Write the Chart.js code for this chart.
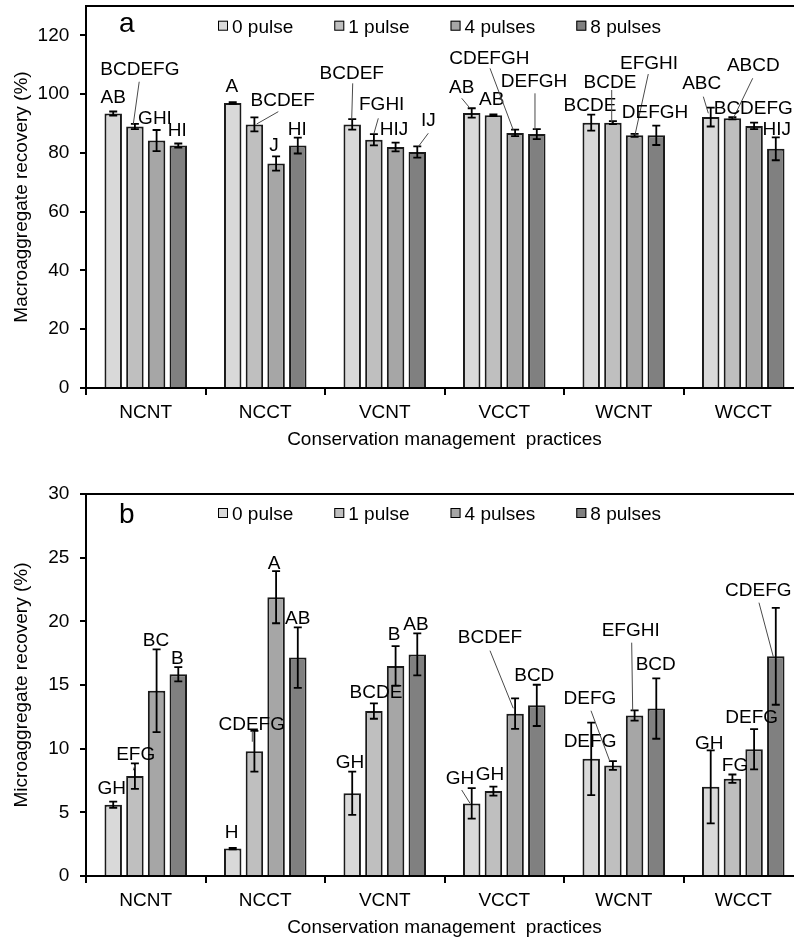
<!DOCTYPE html>
<html>
<head>
<meta charset="utf-8">
<title>Aggregate recovery under conservation management practices</title>
<script src="https://cdn.jsdelivr.net/npm/chart.js@4.4.1/dist/chart.umd.min.js"></script>
<style>
  html, body { margin: 0; padding: 0; background: #fff; width: 794px; height: 943px; overflow: hidden; }
  canvas { position: absolute; left: 0; }
  #macro { top: 0; }
  #micro { top: 470px; }
</style>
</head>
<body>
<canvas id="macro" width="803" height="452"></canvas>
<canvas id="micro" width="803" height="470"></canvas>
<script>
// ---- data -------------------------------------------------------------
const categories = ['NCNT', 'NCCT', 'VCNT', 'VCCT', 'WCNT', 'WCCT'];
const seriesNames = ['0 pulse', '1 pulse', '4 pulses', '8 pulses'];

// Macroaggregate recovery (%): means and error bars per pulse treatment
const macro0 = [93.4, 97.0, 89.7, 93.6, 90.3, 92.2];
const macro1 = [89.0, 89.7, 84.5, 92.8, 90.3, 91.8];
const macro4 = [84.2, 76.4, 82.0, 86.8, 86.0, 89.2];
const macro8 = [82.5, 82.5, 80.3, 86.4, 86.0, 81.4];
const macroErr0 = [0.7, 0.3, 1.8, 1.6, 2.7, 3.2];
const macroErr1 = [0.9, 2.4, 1.9, 0.3, 0.5, 0.4];
const macroErr4 = [3.6, 2.4, 1.5, 1.1, 0.5, 1.1];
const macroErr8 = [0.7, 2.7, 1.9, 1.7, 3.3, 3.9];
const macroLetters0 = ['AB', 'A', 'BCDEF', 'AB', 'BCDE', 'ABC'];
const macroLetters1 = ['BCDEFG', 'BCDEF', 'FGHI', 'AB', 'BCDE', 'ABCD'];
const macroLetters4 = ['GHI', 'J', 'HIJ', 'CDEFGH', 'EFGHI', 'BCDEFG'];
const macroLetters8 = ['HI', 'HI', 'IJ', 'DEFGH', 'DEFGH', 'HIJ'];

// Microaggregate recovery (%): means and error bars per pulse treatment
const micro0 = [5.6, 2.15, 6.5, 5.7, 9.2, 7.0];
const micro1 = [7.85, 9.8, 12.95, 6.67, 8.68, 7.64];
const micro4 = [14.55, 21.9, 16.5, 12.75, 12.6, 9.95];
const micro8 = [15.85, 17.15, 17.4, 13.4, 13.15, 17.25];
const microErr0 = [0.24, 0.05, 1.7, 1.2, 2.85, 2.87];
const microErr1 = [1.0, 1.6, 0.6, 0.35, 0.34, 0.33];
const microErr4 = [3.25, 2.05, 1.55, 1.2, 0.4, 1.58];
const microErr8 = [0.56, 2.37, 1.65, 1.62, 2.37, 3.8];
const microLetters0 = ['GH', 'H', 'GH', 'GH', 'DEFG', 'GH'];
const microLetters1 = ['EFG', 'CDEFG', 'BCDE', 'GH', 'DEFG', 'FG'];
const microLetters4 = ['BC', 'A', 'B', 'BCDEF', 'EFGHI', 'DEFG'];
const microLetters8 = ['B', 'AB', 'AB', 'BCD', 'BCD', 'CDEFG'];

// ---- label placement (pixels) ----------------------------------------
// [dx, dy] of the letter centre from the error-bar top; optional leader
// [sx, sy, ex, ey]: start relative to the letter centre, end relative to
// the error-bar top.
const macroPlace = [
  [[0, -15], [-1, -17], [-0.5, -47.4, [1, 11.6, -0.5, 0.2]], [-10, -22.3, [0, 12.3, -1.7, 0]], [-1.2, -10.7], [-9, -25, [1.6, 14, -2.4, 5.6]]],
  [[5, -55.5, [-0.7, 13.4, -1.6, 0.2]], [28.3, -18.4, [-4.4, 12.7, 2.3, 6.6]], [7.8, -31.1, [-3.4, 15.3, 0.1, -0.8]], [-1.7, -16.7], [-2.9, -39.5, [1.7, 8.3, -1.2, 1.5]], [20.9, -53.1, [-0.6, 14.3, 0.9, 1.2]]],
  [[-1.6, -13.3], [-2, -12.4], [-1.6, -14.3], [-25.8, -72.4, [0.7, 11, -1.8, 0.3]], [14.4, -72.1, [-0.7, 12.3, 0.4, 1.2]], [-0.8, -15.3]],
  [[-1, -14.2], [-0.5, -9.5], [11, -27.2, [0, 14, 1, 0.2]], [-2.8, -49.1, [1, 13.3, -1.8, 0.9]], [-1.3, -13.9], [0.9, -9]]
];
const microPlace = [
  [[-1.5, -14.9], [-1, -16.3], [-2.2, -9.9], [-11.7, -11.4, [1.7, 13.3, -1.7, 15.2]], [-1.2, 17.4], [-1.4, -8.6]],
  [[0.8, -10, [-0.7, 11.7, -1.6, 7]], [-2.7, -7.5, [0.6, 8.4, -2.1, 10.9]], [2.1, -11.8], [-3.4, -13.3], [-22.9, -63.8, [1, 13.4, -2.9, 0.6]], [2.6, -10.5]],
  [[-0.6, -10.4], [-2.1, -9.3], [-1.6, -13], [-25.1, -61.7, [0, 14, -1.8, 9.9]], [-3.9, -81.2, [1, 13.4, -1.9, 0.2]], [-2.4, -12.7]],
  [[-1, -10.3], [-0.1, -10.7], [-1.3, -10], [-2.5, -10.4], [-0.6, -15.1], [-17.5, -18.7, [0.7, 13.4, -2.5, 48.7]]]
];

// ---- styling -----------------------------------------------------------
const FONT_FAMILY = '"Liberation Sans", Arial, Helvetica, sans-serif';
const FONT_SIZE = 19;
const CAP_HALF = FONT_SIZE * 0.716 / 2;
const fills = ['#d9d9d9', '#bfbfbf', '#a6a6a6', '#808080'];
const edge = '#1a1a1a';

function font(size) { return { family: FONT_FAMILY, size: size, lineHeight: 1.2 }; }

// Error bars, significance letters, legend, panel letter and frame top
const annotate = {
  id: 'annotate',
  afterDatasetsDraw(chart) {
    const ctx = chart.ctx;
    const y = chart.scales.y;
    const info = chart.options.plugins.annotate;
    ctx.save();
    // error bars
    chart.data.datasets.forEach((ds, si) => {
      const meta = chart.getDatasetMeta(si);
      meta.data.forEach((bar, i) => {
        const v = ds.data[i], e = info.errors[si][i];
        const yt = y.getPixelForValue(v + e), yb = y.getPixelForValue(v - e);
        ctx.strokeStyle = '#000';
        ctx.lineWidth = 1.8;
        ctx.beginPath();
        ctx.moveTo(bar.x, yt); ctx.lineTo(bar.x, yb);
        ctx.moveTo(bar.x - 4, yt); ctx.lineTo(bar.x + 4, yt);
        ctx.moveTo(bar.x - 4, yb); ctx.lineTo(bar.x + 4, yb);
        ctx.stroke();
      });
    });
    // letters with leader lines
    ctx.font = FONT_SIZE + 'px ' + FONT_FAMILY;
    ctx.textAlign = 'center';
    ctx.textBaseline = 'alphabetic';
    chart.data.datasets.forEach((ds, si) => {
      const meta = chart.getDatasetMeta(si);
      meta.data.forEach((bar, i) => {
        const et = y.getPixelForValue(ds.data[i] + info.errors[si][i]);
        const p = info.place[si][i];
        const cx = bar.x + p[0], cy = et + p[1];
        if (p[2]) {
          const l = p[2];
          ctx.strokeStyle = '#4a4a4a';
          ctx.lineWidth = 1;
          ctx.beginPath();
          ctx.moveTo(cx + l[0], cy + l[1]);
          ctx.lineTo(bar.x + l[2], et + l[3]);
          ctx.stroke();
        }
        ctx.fillStyle = '#000';
        ctx.fillText(info.letters[si][i], cx, cy + CAP_HALF);
      });
    });
    ctx.restore();
  },
  afterDraw(chart) {
    const ctx = chart.ctx;
    const area = chart.chartArea;
    const info = chart.options.plugins.annotate;
    ctx.save();
    // frame top
    ctx.strokeStyle = '#000';
    ctx.lineWidth = 2;
    ctx.beginPath();
    ctx.moveTo(area.left - 1, area.top);
    ctx.lineTo(chart.width, area.top);
    ctx.stroke();
    // panel letter
    ctx.fillStyle = '#000';
    ctx.font = '28px ' + FONT_FAMILY;
    ctx.textAlign = 'left';
    ctx.textBaseline = 'alphabetic';
    ctx.fillText(info.panel, 119, area.top + info.panelBase);
    // legend
    ctx.font = FONT_SIZE + 'px ' + FONT_FAMILY;
    const ly = area.top + info.legendOffset;
    let lx = 218;
    chart.data.datasets.forEach((ds) => {
      ctx.fillStyle = ds.backgroundColor;
      ctx.fillRect(lx, ly - 5, 10, 10);
      ctx.strokeStyle = '#000';
      ctx.lineWidth = 1;
      ctx.strokeRect(lx + 0.5, ly - 4.5, 9, 9);
      ctx.fillStyle = '#000';
      ctx.fillText(ds.label, lx + 14, ly + CAP_HALF);
      lx += 14 + ctx.measureText(ds.label).width + 41;
    });
    ctx.restore();
  }
};

function makeChart(id, series, errors, letters, place, opts) {
  const datasets = series.map((d, i) => ({
    label: seriesNames[i],
    data: d,
    backgroundColor: fills[i],
    borderColor: edge,
    borderWidth: 2,
    barPercentage: 0.806,
    categoryPercentage: 0.726
  }));
  return new Chart(document.getElementById(id), {
    type: 'bar',
    data: { labels: categories, datasets: datasets },
    plugins: [annotate],
    options: {
      responsive: false,
      devicePixelRatio: 1,
      animation: false,
      layout: { padding: { top: opts.padTop, left: 0, right: 0, bottom: 0 } },
      plugins: {
        legend: { display: false },
        tooltip: { enabled: false },
        annotate: {
          errors: errors, letters: letters, place: place,
          panel: opts.panel, panelBase: opts.panelBase, legendOffset: opts.legendOffset
        }
      },
      scales: {
        x: {
          offset: true,
          z: 1,
          grid: { offset: true, drawOnChartArea: false, drawTicks: true, tickLength: 7, color: '#000', lineWidth: 2 },
          border: { display: true, color: '#000', width: 2 },
          ticks: { font: font(FONT_SIZE), color: '#000', padding: 6, maxRotation: 0, autoSkip: false },
          title: { display: true, text: 'Conservation management  practices', font: font(FONT_SIZE), color: '#000', padding: { top: 0, bottom: 1 } },
          afterFit: (s) => { s.height = 64; s.paddingLeft = 0; s.paddingRight = 0; }
        },
        y: {
          min: 0,
          max: opts.max,
          ticks: { stepSize: opts.step, font: font(FONT_SIZE), color: '#000', padding: 10.7 },
          afterBuildTicks: (s) => { s.ticks = s.ticks.filter(t => t.value <= opts.topTick); },
          grid: { drawOnChartArea: false, drawTicks: true, tickLength: 6, color: '#000', lineWidth: 2 },
          border: { display: true, color: '#000', width: 2 },
          title: { display: true, text: opts.title, font: font(FONT_SIZE), color: '#000', padding: { top: 10.3, bottom: 0 } },
          afterFit: (s) => { s.width = 86; s.paddingTop = 0; s.paddingBottom = 0; }
        }
      }
    }
  });
}

makeChart('macro',
  [macro0, macro1, macro4, macro8],
  [macroErr0, macroErr1, macroErr4, macroErr8],
  [macroLetters0, macroLetters1, macroLetters4, macroLetters8],
  macroPlace,
  { max: 130, step: 20, topTick: 120, padTop: 6, title: 'Macroaggregate recovery (%)', panel: 'a', panelBase: 26, legendOffset: 19.7 });

makeChart('micro',
  [micro0, micro1, micro4, micro8],
  [microErr0, microErr1, microErr4, microErr8],
  [microLetters0, microLetters1, microLetters4, microLetters8],
  microPlace,
  { max: 30, step: 5, topTick: 30, padTop: 24, title: 'Microaggregate recovery (%)', panel: 'b', panelBase: 29, legendOffset: 19 });
</script>
</body>
</html>
